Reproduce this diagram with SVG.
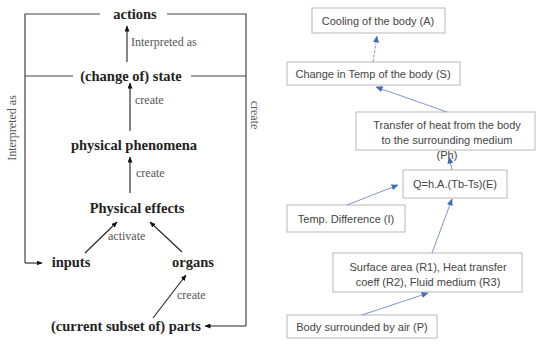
<svg xmlns="http://www.w3.org/2000/svg" width="537" height="351" viewBox="0 0 537 351">
<defs>
<marker id="ak" markerWidth="6" markerHeight="5" refX="5.5" refY="2.5" orient="auto" markerUnits="userSpaceOnUse"><path d="M0,0 L6,2.5 L0,5 z" fill="#111"/></marker>
<marker id="ab" markerWidth="7" markerHeight="6" refX="6.5" refY="3" orient="auto" markerUnits="userSpaceOnUse"><path d="M0,0 L7,3 L0,6 z" fill="#3f6db5"/></marker>
<style>
.ln{stroke:#444;stroke-width:1.2;fill:none}
.ak{stroke:#222;stroke-width:1.1;fill:none;marker-end:url(#ak)}
.nd{font-family:"Liberation Serif",serif;font-weight:bold;font-size:14.5px;fill:#222;text-anchor:middle}
.lb{font-family:"Liberation Serif",serif;font-size:12px;fill:#555}
.bx{fill:#fff;stroke:#b8b8b8;stroke-width:1}
.bt{font-family:"Liberation Sans",Arial,sans-serif;font-size:11px;fill:#444;text-anchor:middle}
.ab{stroke:#7d97c8;stroke-width:1;fill:none;marker-end:url(#ab)}
</style>
</defs>
<rect width="537" height="351" fill="#fff"/>
<!-- left diagram -->
<g id="connectors-left">
<path class="ln" d="M100,14 H25 V263"/>
<path class="ln" d="M167,14 H246 V326"/>
<path class="ln" d="M73,76 H25"/>
<path class="ln" d="M191,76 H246"/>
<path class="ak" d="M25,263 H42"/>
<path class="ak" d="M246,326 H205"/>
<path class="ak" d="M127,62 V26"/>
<path class="ak" d="M130,131 V83"/>
<path class="ak" d="M130,193 V157"/>
<path class="ak" d="M85,253 L117,222"/>
<path class="ak" d="M182,252 L150,222"/>
<path class="ak" d="M153,318 L186,275"/>
<text class="lb" x="131" y="46">Interpreted as</text>
<text class="lb" x="135" y="104">create</text>
<text class="lb" x="136" y="177">create</text>
<text class="lb" x="108" y="240">activate</text>
<text class="lb" x="177" y="299">create</text>
<text class="lb" font-size="13" text-anchor="middle" transform="translate(16,128) rotate(-90)">Interpreted as</text>
<text class="lb" font-size="13" text-anchor="middle" transform="translate(251,115) rotate(90)">create</text>
</g>
<g id="n-actions"><text class="nd" x="135" y="19">actions</text></g>
<g id="n-state"><text class="nd" x="131" y="81">(change of) state</text></g>
<g id="n-phenomena"><text class="nd" x="134" y="150">physical phenomena</text></g>
<g id="n-effects"><text class="nd" x="137" y="213">Physical effects</text></g>
<g id="n-inputs"><text class="nd" x="71" y="267">inputs</text></g>
<g id="n-organs"><text class="nd" x="193" y="267">organs</text></g>
<g id="n-parts"><text class="nd" x="126" y="331">(current subset of) parts</text></g>
<!-- right diagram -->
<g id="n-A"><rect class="bx" x="312" y="8" width="133" height="25"/><text class="bt" x="378" y="24.5">Cooling of the body (A)</text></g>
<g id="n-S"><rect class="bx" x="287" y="62" width="173" height="23"/><text class="bt" x="373" y="77.5">Change in Temp of the body (S)</text></g>
<g id="n-Ph"><rect class="bx" x="356" y="112" width="179" height="38"/><text class="bt" x="447" y="129">Transfer of heat from the body</text><text class="bt" x="447" y="144">to the surrounding medium</text><text class="bt" x="447" y="159">(Ph)</text></g>
<g id="n-E"><rect class="bx" x="403" y="170" width="104" height="28"/><text class="bt" x="455" y="188">Q=h.A.(Tb-Ts)(E)</text></g>
<g id="n-I"><rect class="bx" x="287" y="205" width="118" height="27"/><text class="bt" x="346" y="222.5">Temp. Difference (I)</text></g>
<g id="n-R"><rect class="bx" x="333" y="253" width="189" height="39"/><text class="bt" x="428" y="270.5">Surface area (R1), Heat transfer</text><text class="bt" x="428" y="285.5">coeff (R2), Fluid medium (R3)</text></g>
<g id="n-P"><rect class="bx" x="287" y="315" width="150" height="23"/><text class="bt" x="362" y="330.5">Body surrounded by air (P)</text></g>
<g id="connectors-right">
<path class="ab" d="M373,62 L377,36" stroke-dasharray="3,1.5"/>
<path class="ab" d="M447,112 L376,87"/>
<path class="ab" d="M452,170 L449,157"/>
<path class="ab" d="M347,205 L398,185"/>
<path class="ab" d="M432,253 L452,199"/>
<path class="ab" d="M362,315 L428,293"/>
</g>
</svg>
